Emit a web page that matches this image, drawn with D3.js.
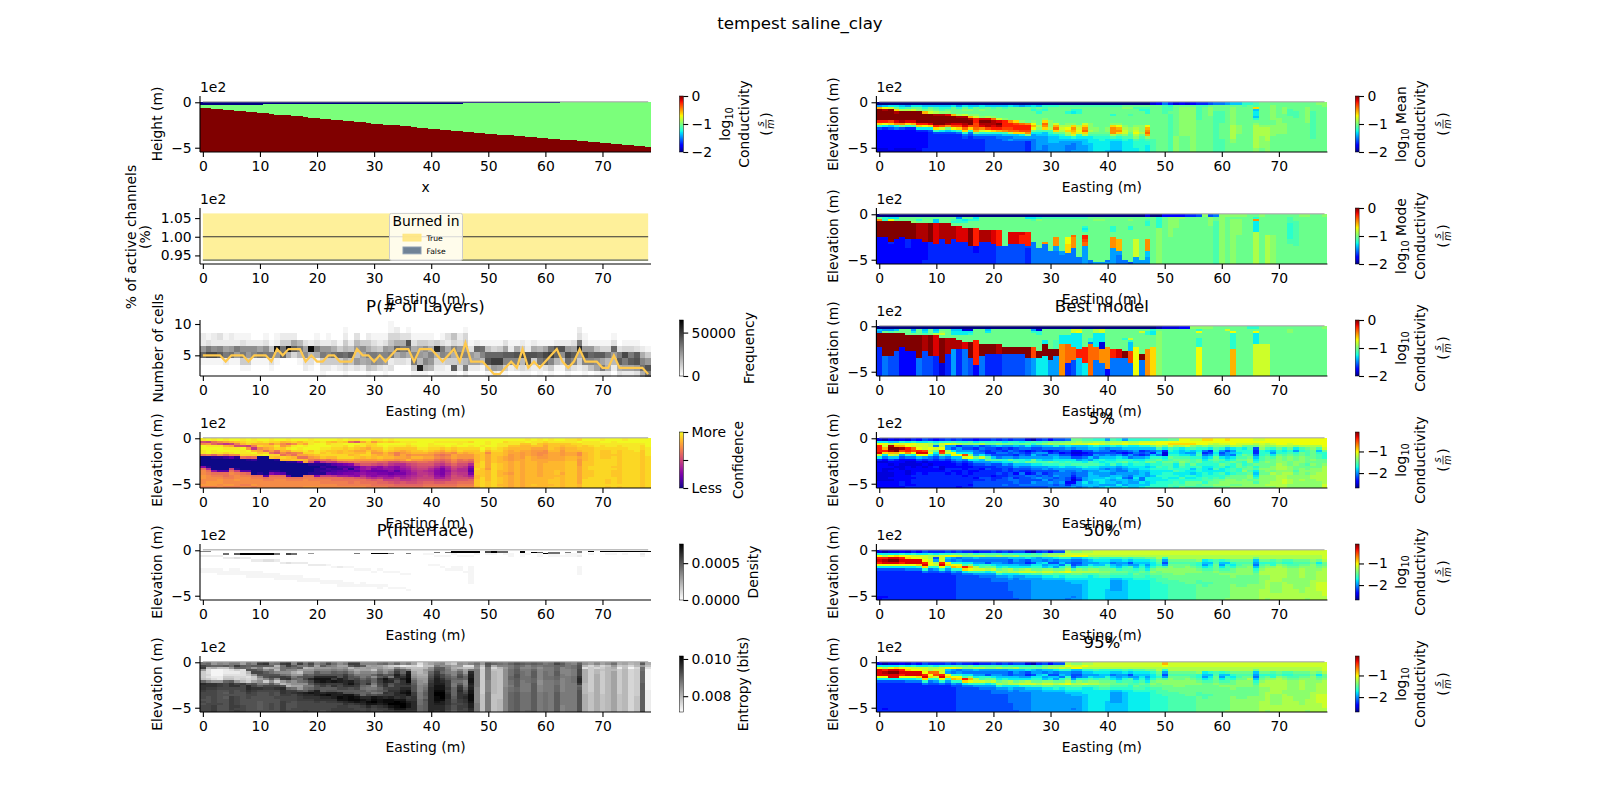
<!DOCTYPE html>
<html><head><meta charset="utf-8">
<script src="https://cdn.jsdelivr.net/npm/d3@7"></script>
<style>
html,body{margin:0;padding:0;background:#fff}
svg text{font-family:"DejaVu Sans",sans-serif;fill:#000}
.axis text{font-family:"DejaVu Sans",sans-serif;font-size:13.9px}
.axis path,.axis line{stroke:#000;stroke-width:1.1px}
</style></head><body><div id="chart"></div>
<script>
const xTickValues=[0,10,20,30,40,50,60,70];
const depthEdges=[0,.25,.5,.75,1,1.25,1.5,1.75,2,2.25,2.5,2.75,3,3.25,3.5,3.75,4,4.25,4.5,4.75,5,5.25,5.5];
const truthValues=[-2,-1,0];
const truthTop=[.33,.33,.33,.33,.33,.33,.33,.33,.33,.33,.33,.22,.22,.22,.22,.22,.22,.22,.22,.22,.22,.22,.22,.22,.22,.22,.22,.22,.14,.14,.14,.14,.14,.14,.14,.14,.14,.14,.14,.14,.14,.14,.14,.14,.14,.14,.07,.07,.07,.07,.07,.07,.07,.07,.07,.07,.07,.07,.07,.07,.07,.07,.07,0,0,0,0,0,0,0,0,0,0,0,0,0,0,0,0];
const truthInterface=[.6,.65,.7,.75,.8,.85,.95,1,1.05,1.1,1.15,1.2,1.25,1.35,1.4,1.45,1.5,1.55,1.6,1.7,1.75,1.8,1.85,1.9,2,2.05,2.1,2.15,2.2,2.25,2.35,2.4,2.45,2.5,2.55,2.6,2.65,2.7,2.8,2.85,2.9,2.95,3,3.05,3.15,3.2,3.25,3.3,3.35,3.4,3.45,3.5,3.55,3.6,3.65,3.7,3.75,3.8,3.85,3.9,3.95,4,4.05,4.1,4.15,4.2,4.25,4.3,4.35,4.4,4.45,4.5,4.55,4.6,4.65,4.75,4.8,4.85,4.95];
const burnBand=[.9375,1.0625];
const burnLine=1;
const layerLevels=[10,9,8,7,6,5,4,3,2];
const bestLayers=[5,5,5,5,4,5,5,5,4,5,5,5,4,6,5,6,6,6,4,5,4,4,5,5,4,4,4,6,5,5,4,5,4,5,6,6,6,4,6,6,6,5,4,5,6,4,7,4,4,4,3,2,2,3,4,3,6,3,4,3,4,5,6,4,3,4,6,4,4,4,3,3,5,3,3,3,3,3,2];
const layerCols=["aacckpbaa","aabdnsbaa","aacclsbaa","aadcmqbaa","aabcjncaa","aacckobaa","aabcnkbaa","aabdlnfba","aabclkfba","aaaclmbaa","aaacjobaa","aabdlnbaa","aaabgndba","aabcxkbaa","aacfopaaa","aacfxiaaa","aacjqeaaa","aaahnhbaa","aaadjldca","aaacyhdba","aabdnibaa","aaacknfcb","aabckmfca","aaadiofba","aaabfpfca","abcfhoidb","aaacgqgca","aadhkgkda","aaafljica","aacfinjgb","aabdgnlfa","aabcfmkda","aabdkmjcb","bbegjncda","aceipidaa","aadinkdaa","abdroicaa","aabdimnfb","aabfjkhwb","aabfljmib","aabeimkha","aaafviecb","aabdnmecb","aadcilfbb","aagemifqb","aacdkngda","abefkmhnc","aaabdkjca","aaacpijca","aaabomhba","aaabgprgb","aaabeptkc","aaabfptjb","aaadjqmfb","aaabcqmca","aaabirmda","aaacfsheb","aaabcrrdb","aaacirfca","aaabhqncb","aaabjspda","aaabotmfb","aaacrphba","aaacrlfba","aaacksofb","aaadjqmda","acdnvjfca","aabcksmdb","aaabkpmga","aaabgqljb","aaabeqjnc","aaabenhic","aabdpkhca","aaaadnqid","aaabesnjc","aaabenqjc","aaabdqrkd","aaaacimoi","aaaabfkrn"];
const meanCols=["ahszzzzzwrkfddddddddcc","aiqyzzzzwqjeddddddddcc","ajpzzzzzvrifdddddddddc","ajmryzzzxtkgddddddddcc","aikozzzzytmfddddddddcc","ahlozzzzxrkeddddddddcc","ajmpzzzzxsleddddddddcc","ajmnzzzzzwrjeddddddddc","aikmszzzzwqjedddddddee","aimnpzzzzxrjfeeeeeeeee","ailmoyzzzzwrkfeeeeeeee","aiklnyzzzzvpjfeeeeeeee","aikmnxzzzytmifeeeeeeee","ajmmmszzzxvqjfeeeeeeee","ahkmmoyzzxvrkgeeeeeeee","ajmnmpyzzyxurkgfeeeeee","aiknmnsyzzvrkgfeeeeeee","aimmmnpwwvvusmhfeeeeee","ajlnmmnxzyxtpkhfeeeeee","aimmmmoxzyyvqkhfffffff","ailmmmnuyyxwrkhfffffff","aimmmmmpxzywskhgffffff","ailmmmmnwwwvtliggfffff","ajmmmmmmtwwvuoighfffff","aimmmmmmrvwwurihgfffff","ahmmmmmmnuwwvrjhgfffff","aimmmmmmmtwwvtnhgeeeee","ajlkmmmmnqsqmjhhgggggg","aimlkmmmmmonljihhhhhhg","aklkmmmnrutrliihhhhggg","akmmmmmmnnnolkjiiihhhh","akmmmmmmmpsurmjiiihhhh","almmmmmmmmopomkjihhhhh","almmkmmmmnoqronjihhggg","almkjmmmmnrtsrpkihgggh","almkkmmmmmopqpkjihhhhh","almmmmmmmprturojiiihhh","almmmmmmmnnnomljjjiiii","almmmmmmmmmnnmlkjjjjjj","almmmmmmmmmmmmlkkjjjjj","almmmmmmmmmnnmlkjjjjji","almmmkmmmnrtttoljiiiih","almmmmmmmnqstrmkjiiiih","amnmmmmmmmnoppnlkjjjjj","amnmmlmmmmmnnmlljjjjjj","amlmmmmmmmnopqonlkkkjj","amlkmmmmmmnnnomlkkkkkk","amlkkmmmmmqstusnlkkjjj","cmmmmmmmmmmmmmmmllllll","dmmmmmmmmmmmmmmmmmmmmm","gllllmmmmmmmmmmmmmmmmm","ekllmlllllllllllllllll","cmmmmmmmmmmmmmmnnnnnnn","dmnnnnnnnnnnnnnmmmmmmm","cmnnnnnnnnnnnnnmmmmmmm","dmnnnnnnnnnnnnnnnnnnnn","elllllllmmmmmmmmmmmmmm","elmmmmmmmmmmmmmmmmmmmm","fmnnnnmmmmmmmmmmmmmmmm","gmmmllllllllllllllllll","gmmmlllllmmmmmmmllllll","hmmmmmmmmmmmmmmmmmmmmm","imnnnnnnnnoooooonnmmmm","immmmmmmmmnnnnmmmmmmmm","klmmmmmmmmmmmmmmmmmmmm","kmmmmmmmmmmmmmmmmmmmmm","llrijjikmnoooooooooonn","mmmmmmmmmmnoooonnnnnmm","mmmmmmmmmmnoooooonnnnn","mnnnnnnnmmnnnnnmmmmmmm","mmmmmmmnnnnnnnmmmmmmmm","mmnnnmmmmnnnnnmmmmmmmm","mmmlllmmmmmmmmmmmmmmmm","mmmmlllmmmmmmmmmmmmmmm","mmmmmmmmmmmmmmmmmmmmmm","mmnnnnnnnmmmmmmmmmmmmm","mmmmllllllllllllmmmmmm","nmmmmmmmmmmmmmmmmmmmmm","nnmmmmmmmmmmmmmmmmmmmm"];
const modeCols=["amtzzzzzzzdddddddddddd","akkzzzzzzzdddddddddddd","ajqzzzzzzzzzeddddddddd","ajmzzzzzzzzddddddddddd","ammzzzzzzzdddddddddddd","ammzzzzzzzzeeeeddddddd","ammnzzzzzzzddddddddddd","amkmyyyyyyyddddddddddd","ammmyyyyyyyyddddddddee","ammmzzzzzzzzeeeeeeeeee","amiixxxxxxxxxeeeeeeeee","ammmyyyyyyyeeeeeeeeeee","ammmyyyyyyyyyeeeeeeeee","amlkmyyyyyyeeeeeeeeeee","ahkkmxxxxxxxeeeeeeeeee","amjkmmxxxxxxeeeeeeeeee","amkmmmzzzzzzzzeeeeeeee","ajkmmmwwwwwwwwdddeeeee","ammmmmmyyyyyeeeeeeeeee","ammmmmmyyyyyeeeeeeeeee","ammmmmmxxxxxxeeeeeeeee","ammmmmmwwwwwwwffffffff","ammmmmmmmmmmmmffffffff","ammmmmmmxxxxxfffffffff","ammmmmmmxxxxxfffffffff","ammmmmmmxwwwwfffffffff","ajmmmmmmwwwwwwfeeeeeee","ajlmmmmmmmmmgggggggggg","aknmmmmmmmmmmmmggggggg","almmmmmmmmmmtggggggggg","almmmmmmmmmmmmmmgggggg","almmmmmmmmtttthhgggggg","almmmmmmmmmmmmmmhhgggg","almmmmmmmmqqqrrrrggggg","almmmmmmmutttttggggggg","almmmmmmmmmmmmmmmmmggg","almmmkjkmwwvuuhhhhhhhh","ammmmmmmmmmmmmmmmmmmgg","amnmmmmmmmmmmmmmmmmmmh","amnmmmmmmmmmmmmmmmmmmh","ammmmmmmmmmmmmmmmmmmgh","ammmmkkkmmttttthhhhhhh","ammmmmmmmmmssssshhgggg","ammmmmmmmmmmmmmmmmmmgg","amnmmkkmmmmmmmmmmmmmmf","ammmmmmmmmmpppppppphhh","ammmmmmmmmmmmmmmmmmmhh","cmlkkmmmmmmtttttiiihhh","ammmmmmmmmmmmmmmmmmmmm","akkkkknnnnnnnnnnnnnnnn","dmmmmmmmmmmmmmmmmmmmmm","dnnnnnnnnnmmmmmmmmmmmm","dnnnnnmmmmmmmmmmmmmmmm","dnmmmmmmmmmmmmmmmmmmmm","emmmmmmmmmmmmmmmmmmmmm","emmmmmmmmmmmmmmmmmmmmm","fmmmmmmmmmmmmmmmmmmmmm","nmmmmmmmmmmmmmmmmmmmmm","fnnnnmmmmmmmmmmmmmmmmm","gmmlllllllllllllllllll","nnnnnnnnnnnnnnnnnnnnnn","nmmmmmmmmmmmmmmmmmmmmm","nmnnnnnnnnnnnnnnnnnnnn","nmnnnnnnnmmmmmmmmmmmmm","nmmmmmmmmmmmmmmmmmmmmm","mmmmmmmmmmmmmmmmmmmmmm","mktjjjjjoooooooooooooo","nmmmmmmmmmmmmmmmmmmmmm","mmmmmmmmmooooooooooooo","mmmmmmmmmnnnnnnnnnnnnn","mmmmmmmmmmmmmmmmmmmmmm","mmmmmmmmmmmmmmmmmmmmmm","mlllkkkkkkkllmmmmmmmmm","mmmlllllllllllmmmmmmmm","nmmmmmmmmmmmmmmmmmmmmm","nmmmmmmmmmmmmmmmmmmmmm","mmmmmmmmmmmmmmmmmmmmmm","mmmmmmmmmmmmmmmmmmmmmm","nmmmmmmmmmmmmmmmmmmmmm"];
const bestCols=["aihzzzzzzeeeeeeeeeeeee","ahmzzzzzzzzzzggggggggg","ahlzzzzzzzzzzfffffffff","aimzzzzzzzzfffffffffff","ammzzzzzzddddddddddddd","ammmzzzzzzzddddddddddd","ahjmzzzzzzzddddddddddd","ammmzzzzzzzzzzgggggggg","aijlyyyyyyyfffffffffff","ammmzzzzzzzzzfffffffff","aijoxxxxxxxxxeeeeeeeee","amnpmzzzzzzzzzzzcccccc","ammmmyyyyyyyeeeeeeeeee","aijjmyyyyyhhhhhhhhhhhh","aijjmmyyyyeeeeeeeeeeee","acjjmmmxxxgggggggggggg","acjkmmmzzzzzzzffffffff","ammmmmwwwwwwwwwwwddddd","ammmmmmmzzzzzggggggggg","aijmmmmmzzzzeeeeeeeeee","ammmmmmmzzzzeeeeeeeeee","ammmmmmmyyyyeeeeeeeeee","ammmmmmmmzzzffffffffff","ammmmmmmmzzzffffffffff","ammmmmmmmzzzffffffffff","ammmmmmmmzzzffffffffff","ammmmmmmmzzzzzgggggggg","ahkmmmmmmvvvvvhhhhhhhh","ackkmmmmmmmzzzjjjjjjjj","ammmmmjjzzzzzjjjjjjjjj","ammmmmmmmmzzzzzhhhhhhh","ammmmmllllzzzhhhhhhhhh","ammmjjjjtttttttttttttt","ammmjjjjuuuuuuuueeeeee","appjjjjjjuuuuuufffffff","apqjjjjjjjwwwwiiiiiiii","ammmmmmmmwwwwwwwjjjjjj","ammmmkkguuuuuuuuuuuuuu","aoojjjjjjuuuuuuggggggg","appjjjjcccttttttgggggg","ammmmmmmmttttttttttddd","ammmmmmmmmwwwwgggggggg","ammmmmmmmmxxxxgggggggg","ammmmkmmmmmzzzgggggggg","ammmmpkiiiivvvvvgggggg","ammmmmmmmqqqqqqqqqqqqq","ampmmmmmmmmmzzzggggggg","amkkmmmmmmtttttttttttt","akjjmmmmmrrrrrrrrrrrrr","bmnnnnnnnnnnnnnnnnnnnn","cmmmmmmmmmmmmmmmmmmmmm","cmmmmmmmmmmmmmmmmmmmmm","cmmmmmmmmmmmmmmmmmmmmm","dmmmmmmmmmmmmmmmmmmmmm","dmmmmmmmmmmmmmmmmmmmmm","nmmmmmmmmmmmmmmmmmmmmm","nkqmmkkkkqqqqqqqqqqqqq","nmmmmmmmmmmmmmmmmmmmmm","nmmmmmmmmmmmmmmmmmmmmm","mmmmmmmmmmmmmmmmmmmmmm","mmmmmmmmmmmmmmmmmmmmmm","mpmmmmmmmmmmmmmmmmmmmm","mmqkkkkkkkssssssssssss","mmmmmmmmmmmmmmmmmmmmmm","mmmmmmmmmmmmmmmmmmmmmm","kmmmmmmmmmmmmmmmmmmmmm","kmqjjjjjpppppppppppppp","mmmmmmmmpppppppppppppp","mmmmmmmmpppppppppppppp","mmmmmmmmmmmmmmmmmmmmmm","mmmmmmmmmmmmmmmmmmmmmm","mmmmmmmmmmmmmmmmmmmmmm","mnnmmmmmmmmmmmmmmmmmmm","mmmmmmmmmmmmmmmmmmmmmm","mmmmmmmmmmmmmmmmmmmmmm","mmmmmmmmmmmmmmmmmmmmmm","mmmmmmmmmmmmmmmmmmmmmm","mmmmmmmmmmmmmmmmmmmmmm","nmmmmmmmmmmmmmmmmmmmmm"];
const p5Cols=["cjqwwwxpjecddddccccddd","bjqpswrjgdcddccccccddd","dioyzyspifdcdcdccdcddd","ciqszzsoieddcddddddddd","dkpsyvqhfddcccdddddeed","cjqqwwtkgdccddccddddde","ekqpuvqjgdcccdddedeede","djppqwxqifdcdddeeeeeee","fjpppvxqhecdcdddeeeeee","ekooqoqkgfdcdddeeeeeee","djmgpmjhfeddeddeeeeeee","ekpoqwvmhfddccdeeeeeee","fkqhhopjgedddeedeeeeee","elphfjqqigeddedeeeeeee","fkoehhjqihfededdeeeeed","ekngfhjvpgedddeedeeeee","elngfhjnqjfededdeeeede","djnhegghmjhfeedeedefff","ekofgfgjpihfedeeefefff","ekmgfeehlmhgefeeefffff","fkmhffefilifeeeedeefff","ekniefgfgliffeefeeffff","fjmhfegfhkjhfffeefffgf","ekmhegffhmjgfeeffggfff","fkliffgegklihffdfeggff","fjmhgefghkkigfegffffgf","ckmjgdefhjmigfedgfffgf","blkhfegihmmjhgfeggfhgf","ekmhffhghjljhgfgfhfggf","flnigehfhilkhhfegghggf","dmoigdehhimkigfffgfhgg","fmnkgefhijlkihfghfggfg","fmoigfdfhjkljhhgggghgg","gnojhfefhjlkihgggffdeg","mnpigdcdfjklihgfedcdgh","mopihdcdfhkljhhggfehhg","lnpihfdegijlkiggghhjih","lnqjifeeihlljihiiiihii","koqkihfhgjkljihhiijiih","kopjhgfgikjkihihhijjhi","hnojggfhijkjigihhjiihj","lopkhefgijklihhgiihihi","kopjhfehjkljhgghijihji","hpqkifdfikmkihghhgiihj","kopjigehgkkjjiihgfhhii","kopjihgfhjlkjihhijihii","kpqkiefehjkkjjiiiggjij","kpqkifgfikmjijihhjjiik","lpqmigeiklmkjkjjijjjkk","lqqolhigkmkklkjjkjjkkk","lqqmjeccjkmlkkjkkkjkkk","mqrplkjkmlmllljkkjkkll","mqrnkjjklmljjkljkjkllk","qqrojiijlmnmlkkjjlkklm","qqrpkjhjlmmkkkjjkjkmml","pqrnlihikllmkijikjkmml","pqqmkjklkmmklkkjjkkmll","rqqnkgegijkkjjjkkllkml","rqpmjefhjlkkjijjkklmml","qqonlkjkmmlkkljkklmmnm","qqpnkhfgjlkmljjlkkmnnm","rqpmifhhijlljkkjlmnnnm","qqqojhigjkmkkllkmmnnmn","qqpokkjklmlmmkklmmmnmn","qqpmjkkmlmkklmnlmmnnnn","qqpmlkklmnnlmmlmnnmnnn","pqomfeegijkmkljijkmlnn","pqponkkkllmmmnmmnnnnnn","qqonljklmmnmmnnmnnnnon","qqpnkihjlmmmnnmonnnoon","qqqomkkmnnnooonnoooooo","qqqokjklmmnnoonoooppoo","qqpomklmnnmmnnnonnoonn","qqqnjhklmmnnmmlmnnnnnn","qqqolkmmnnnmmnnnnnonnn","qqqomlllmmmlmmnmnnnnnn","qqqonmmmmnmnmnnnoonnnn","qqqolikllmmmmnnoooonnn","qqqqpmkkkmmnoooooooopp"];
const p50Cols=["cjqwxwqjfeeeeeeeeeeedd","bjowyxqjfeeeeeeeeeeede","cjqxzxqjfeeeeeeeeeeeee","cjrxzxqjfeeeeeeeeeeeee","dkqwxwqjfeeeeeeeeeeeee","cjqrxxqjgeeeeeeeeeeeee","ekpqxxqjgeeeeeeeeeeeee","djpqxxrkgeeeeeeeeeeeee","fjppqwxrkgeeeeeeeeeeee","ekoopqqkgfeeeeeeeeeeee","ejofhopkhfeeeeeeeeeeee","ekpppwxqkgeeeeeeeeeeee","fkqihqrkhfeeeeeeeeeeee","elqhgkqskhfeeeeeeeeeee","flpghkqrkgffffffffffff","elnhgjlwrjgfffffffffff","emnhgjnsqkgfffffffffff","dkoighjopkhfffffffffff","elohghklpkhgffffffffff","elnhgfkmojhgffffffffff","flnhghjmpkhgggffffffff","elohghijmokhggffffffff","fknhggiknnjhggffffffff","elniffijoojihgggggffff","fkoihgijmojhgggggggggf","fkmigghjnpkhhggggggggg","ckmjfehjopkihggggggggg","blmihfjkmplihhhhhhhhhh","ekmhhijkmolihhhhhhhhhh","fmnigjhinpmjihhhhhhhhh","dnoihfijnpmjihhhhhhhhh","fnojgfihmolkihhhhhhhhh","fnpkhigkmpljihhhhhhhhh","oppkhgkmoqlkjihhhhhhhg","npqigffhlomkjiihhhhhgh","npqigfgknomkjiihhhhhhh","opqjhhhkmolkjiiiiiiiii","opokihjlnoljjjjjjjjjjj","ppoljhiknolkjjjjjjjjjj","ppokjiilmnmljjjjjjjjjj","ppokjiklmnmljjjjjiiiii","ppokigijmmlkihhhhhiiii","ppokihhikmlkihhhhhiiii","ppoljhiklmlkjiiiiiiiii","ppokifhlllkkjjjjjjjjjj","ppoljihiklmlkjjjjjjjjj","ppoljijklmllkjjjjjjjjj","ppomjihijllkkjjjjjjjjj","ppomkjjkmnmlkkkkkkkkkk","ppoomlkmnmmlllkkkkkkkk","ppokhfhlnnmmlllkkkkkkk","ppoomlmnnnmmmlllllllll","ppoomlmmnnnmmlllllllll","ppoomlmmnnnmmmllllllll","ppoomlmnnnmmmmmlllllll","ppoomllmnnmmmmmlllllll","ppoonkklmnmmmllmmmmmmm","ppoojihjlmmmmmllmmmmmm","ppookijklmmmmmlmmmmmmm","ppoollmmmnmmmmmmmmmmmm","ppookihjlmnmmmmmmmmmmm","ppoolikllmnmmmmmmmmmmn","ppoomkjkmmnnmmmnnnnnnn","ppoomllmnnnmmmmmnnnnnn","ppoomlmmnnnmmmmmnnnnnn","ppoomlmnnnnmmmmnnnnnnn","ppomihgiklmmmmmnnnnnnn","ppoomklmnoonnnnnnooooo","ppoomkmnooonnoooooooon","ppoolkknoooooonnnnnooo","ppoomlnooooooonnnnnooo","ppoolkmnoooonnoooooooo","ppoolklmnnnnnnnooooooo","ppoomllmnnnnnnnnnooooo","ppoomlmnoooonnnnnnnooo","ppoomlmnnnnnnnnnooooon","ppoonmnnnnnnnooooooooo","ppoomjlmnoooooppppoooo","ppppommnooooooppppppoo"];
const p95Changes=[[0,"cjqxxxqjfeeeeeeeeeeeee"],[2,"cjqxzxxjfeeeeeeeeeeeee"],[3,"cjrxzxxjfeeeeeeeeeeeee"],[9,"ekoouqrkgfeeeeeeeeeeee"],[10,"ejopuvpkhfeeeeeeeeeeee"],[50,"sqokhfhlnnmmlllkkkkkkk"],[65,"ppoomlmonnnmmmmnnnnnnn"],[36,"oqokihhkmpljjjiiiiiiii"],[33,"oqokhhkmoqlkjihhhhhhhh"]];
const p95Cols=p50Cols.map((c,i)=>{const m=p95Changes.find(d=>d[0]===i);return m?m[1]:c;});
const confCols=["ynszzyyqaaaahqssttsstr","zmtyzzzraaaabkqrsssttr","yqpyzyypbaaaaaiqrssttr","zsnyzzysbaaaaaeqrsttss","yulvyzxqcaaaaaeqqrsstr","zvmuyzyseaaaamqsrrsstr","zwrnyzzsbaaaabmrsstssr","yxvnzyyxqaaaaaeqrsssrs","zyxmtzyxpbaaaaeprsssrs","yyvrlvzxqcaaaaaaqrsstr","zxvxsuwyaaaaaaabqrssss","zyvwuqxzaaaaaaaaeqrsss","yxswvtqxwaaaaabhqrrsss","zxvyxqoxvbaaaabfqrssss","zvstwvsqxvaaaaaeqrssss","ywqvyuqswvbaaaaaeqrsss","zxsyzxrqvwbaaaaaaqrsss","zvwzyxsuqwfaaaaaaqrsss","zxuyzyxuqvuaaaaaqrssst","yyyzzwxvtrnbaaabqrrsst","zxzzzyywuqfbabbbhqrsst","zyzzyxwxwrkbcbcbmqrrss","zwxzywxxvqmcbdcfmqrrss","zvyyxwwxvslebcdelqqrss","yxyyxvvxxuofdcefjqqrrs","zwzxwwwxxupgdfegjpqrrs","yqzzxvwvxuqhebfgipqqrs","yozxwuvwwtrmfgehhoqrrs","zuyyvuvxvtqoiihiknqqrs","zxxwuwxxwtqojjghilpqrr","ytxxwutvvtqnigfhhkoqqr","ywzywvtuwupmhhfgilppqr","zxzzyxvvvtpnjifgijmpqr","ywzyxwtuvtnliihfhjmoqq","zxzywvrrusnkhhegilmnpq","zyzywutuutokjihgijlopq","zyyxwvustvpmkjiijklnpq","zyzywwvtvtpnmlkjklmnpq","zzzzywvtvtqonmlllmnopq","zzzzyxvtusqonmklmmnpqr","zzyyxwutuspomkjklmnpqr","zyzyxvtrsqomkihhijmoqr","zyzywusqrpnliggghjmoqr","zyzzxwtrsqpnkjijklmpqr","zyzywvsuusrpnmlmnnopqr","zyyzxxvttqpnmkklmnoqrs","zyzzxwuttrpnlkkllnoqrs","zxzyxwvttqokhfegjmpqrs","zzzzxwwvvvvwwxwwvvwwwv","zzzyzywwwwxxxwwwwxxxxx","zyyzxvsuuuuuutvvvvvwww","zzzzyxwwwwwxxxxxxxxxxx","zzyyxxwwvvvwwwvvvwwwvw","zxyywvvvuuvvvvvuvvvvvv","zyywvuutttuuuuutuuuuuu","zyywvvuuuuvvvvvvvvvvvv","zywvvutttuuuuuuuuuuuuu","yzwvvuuuvvvvvvvvvvvvvv","zyywutttuuvvvvvvvvvvwv","yywwutsstuuuuuuuuvvvvv","zxvuussttuuvvvvvvvvvvv","yywwwvuuuuvvvvvvvvwwvw","zywwvvuuuuvvvvwwvwwwww","zywvutttuuvvvvvuvvvvvv","yywwvvuuvvwwwwwwwwwwww","yyxwvvuuvvwwwwwwwwwwww","xzxxwvssutttuuuuuuuuvv","zyywwwvvvvwwwwwwwwxxxx","zyyxwwwwwwwwxxwwwxxxxx","zyyyxxxxxxxxxxxxxxxxxx","yzyxxwwwwxxxxxxxxxxxxx","zzyyxwwwwxxxxxxxxxwwxw","zyyyxxxwxxxxwxwwwxxxxx","zzyxxwwwwwwwwwwwwwwwxw","yzyyxxxxxxxxxxxxxxxxxx","zzyyyxxxxxxxxxxxxxxxxx","zzyyyyxxxxxxxxxxxxxxxx","zzyxxwwwwwwwwwwwwwwwww","zzzzyyyyxxxxxxxxxxxxxx"];
const entropyCols=["ostkfffgpvuutsssrsrsss","pqhddedfmuutsssrrrssss","kpibbbcdkuutsssssssttt","mpgbbbcckttsrrrrrrsrrr","lqgccdfgpsssrqrqrrrrrr","nokdcdfgquusssrtttttts","ntpfcdeeksusrrrsssstst","jqpdddefhtsssrrrrrrsss","oporhfdefqvvutssrrrrrr","mqkrskffjrsutssrrrrrrr","tqnpsrmjlnqusrrrrqqqqr","uqhlqrrmfnstsrrrrrrrrr","npinorsqlqstsssrrrsssr","ohjhmrslfmsusrrsrrrrrr","tooolottkhrvuutssttttt","utpmlnsunjhptttsssrrrs","mqomiknplljotusssrrrss","tnqjgkqooljkrvuttsssss","onhkmqrsplnoqwvutsssst","sqikmprvsqnptxvutsssss","mjkmqrvxwtrrwwwuutssss","oqkmorvxxutqqvxvussssr","snkmorvxwtrqrwyvutssss","omlnqrvtxtuqrwwwutsstt","ljkmprrwwtssqvwyxusttt","njlnqtuuvvusqrxxxvuttt","tqhknqrrwxurqrxyywtstt","tskiknqstutsqquxyxusst","mqjjmnnprrpoqppvxwvtss","mjkjmnprsuonoqsvwyxvtt","mkjglplppnlnpnrxyzxtss","ojkmosqutsrpqoswxxwuts","phiklqsxwuusrutvyyxvtt","mfhlornuvrqtuttwyyzxvt","pemrtwvtrtttuvvuxzzyxu","lcjppsuwuutvwxvvxyzzxu","ndhnwxxyyvtvxyxtuwxxvu","jeghjklnpqrrrttuuvvvvu","dcghhijkllmmmnnnoooppp","hghkjijkkmnopqqprqqqqq","jglmpqrstuuvvvvvvvvvvv","lnqrtuvwwwxxyzzyyxwvvu","mlqqpssuvwxxyzzzywwvvv","hlmnnpqrtttutuvvuuutts","fjijmmoponnppppqrrsrrq","lkhmprsqoqtuvuuuttstts","kdgjknppmmnprsuvuuttss","mdgnvwwxxwvwxxyyyxwwvu","omlnnnnnnnnmmmmmmmnnnn","kgefffffffffffgggggggg","rqnnnnnnmmmmmnnnnnnnnn","pieghhhhhhhhhhgggggggg","omhggggggggggggghhhhhh","nmkllllllllmmmmmmmmmmm","pnnoooppoonooppppppppp","rppqqrrqqqqppqqqqqqqqq","qomnoooonnnnnooooooooo","pmmnnnooonnnnoooooooop","qonpqqqppqqqqqqqqqqqqq","pnlmmmmmllmmmnnnnnnnnn","nonnoooonnnnnooooooooo","oonnnnoonnnnnnnnnnnnnn","spppqqppoopppqqqqqqqqq","qpmmmnnmmmmmmnnnnnnmmm","nnnmmmnnnnnnnnnnnnnnnn","moonnnooonnnnnnnnnnnnn","qrrsssuvvtpqrrrrrrrrrr","lhdiiiiiihhhhhiiiiiiii","jefffffffffffggggggggg","mhehhiiiiiiiiiiiiiiiii","jefgffffffffffgggggggg","lghhhhhhhhhhhhhhhhhhhh","okihjjjjjjjjjjjjjjjjjj","ifcfffffffffffgggggggg","jgghhhhhhhhhhhhhhhhhhh","hebeeeeeeeeeeeeeeeeeee","iheffffffffffffggggggg","qkoopppppqqqqqqqqqqqqq","igdbbbbbbbbbcccccccccc"];
const densityCols=["aacaaaaabbaaaaaaaaaaaa","aacaaaaabbaaaaaaaaaaaa","aacaaaaabbaaaaaaaaaaaa","aacaaaaabbbaaaaaaaaaaa","aaacaaaaabbaaaaaaaaaaa","aaacaaaabbbaaaaaaaaaaa","aaadaaaabbbaaaaaaaaaaa","aaacaaaaabbaaaaaaaaaaa","aaacaaaaabbbaaaaaaaaaa","aaaacaaaabbbaaaaaaaaaa","aaaacaaaabbbaaaaaaaaaa","aaaadaaaaabbaaaaaaaaaa","aaaadaaaaabbaaaaaaaaaa","aaaacaaaaabbbaaaaaaaaa","aaaaacaaaaabbaaaaaaaaa","aaaaadaaaaabbaaaaaaaaa","aaaaacaaaaabbaaaaaaaaa","aaaaacaaaaabbbaaaaaaaa","aaaaacaaaaaabbaaaaaaaa","aaaaaacaaaaabbaaaaaaaa","aaaaaacaaaaabbaaaaaaaa","aaaaaacaaaaaabbaaaaaaa","aaaaaabaaaaaabbaaaaaaa","aaaaaaabaaaaabbaaaaaaa","aaaaaaacaaaaabbbaaaaaa","aaaaaaabaaaaaabbaaaaaa","aaaaaaabaaaaaabbaaaaaa","aaaaaaaabaaaaaabaaaaaa","aaaaaaaabaaaaabbaaaaaa","aaaaaaaabaaaaaabaaaaaa","aaaaaaaaabaaaaabaaaaaa","aaaaaaaabaaaaaabbaaaaa","aaaaaaaaabaaaaabaaaaaa","aaaaaaaaabaaaaaabaaaaa","aaaaaaaaabaaaaaabaaaaa","aaaaaaaaaabaaaaabaaaaa","aaaaaaaaaabaaaaaabaaaa","aaaaaaaaaaaaaaaaaaaaaa","aaaaaaaaaaaaaaaaaaaaaa","abaaaaaaaaaaaaaaaaaaaa","abaaaabaaaaaaaaaaaaaaa","aabaaabaaaaaaaaaaaaaaa","aabaaaabaaaaaaaaaaaaaa","aabaaaaabaaaaaaaaaaaaa","abaaaaabbaaaaaaaaaaaaa","aabaaaabbaaaaaaaaaaaaa","aabaaaaaabaaaaaaaaaaaa","aabaaaabbbbbbbbaaaaaaa","abaaaaaaaaaaaaaaaaaaaa","aaaaaaaaaaaaaaaaaaaaaa","abaaaaaaaaaaaaaaaaaaaa","abaaaaaaaaaaaaaaaaaaaa","aaaaaaaaaaaaaaaaaaaaaa","abaaaaaaaaaaaaaaaaaaaa","abbaaaaaaaaaaaaaaaaaaa","aaaaaaaaaaaaaaaaaaaaaa","abbaaaaaaaaaaaaaaaaaaa","abaaaaaaaaaaaaaaaaaaaa","aaaaaaaaaaaaaaaaaaaaaa","abbaaaaaaaaaaaaaaaaaaa","aaaaaaaaaaaaaaaaaaaaaa","abbaaaaaaaaaaaaaaaaaaa","abbaaaaaaaaaaaaaaaaaaa","aabaaaaaaaaaaaaaaaaaaa","abbaaaaaaaaaaaaaaaaaaa","abbaaaaaaaaaaaaaaaaaaa","abcaaaabbbbaaaaaaaaaaa","aaaaaaaaaaaaaaaaaaaaaa","abaaaaaaaaaaaaaaaaaaaa","aaaaaaaaaaaaaaaaaaaaaa","aaaaaaaaaaaaaaaaaaaaaa","abaaaaaaaaaaaaaaaaaaaa","abaaaaaaaaaaaaaaaaaaaa","aaaaaaaaaaaaaaaaaaaaaa","abaaaaaaaaaaaaaaaaaaaa","aaaaaaaaaaaaaaaaaaaaaa","aaaaaaaaaaaaaaaaaaaaaa","acbaaaaaaaaaaaaaaaaaaa","aaaaaaaaaaaaaaaaaaaaaa"];
const densityDashes=[[0,.1,12],[1,.1,12],[4,.33,14],[6,.33,16],[7,.33,25],[8,.33,25],[9,.33,25],[10,.33,25],[11,.33,25],[12,.33,25],[13,.33,14],[15,.33,18],[16,.33,14],[19,.3,10],[27,.28,13],[30,.25,25],[31,.25,25],[32,.25,25],[33,.25,12],[36,.25,13],[41,.15,14],[43,.15,14],[44,.12,25],[45,.12,25],[46,.12,25],[47,.12,25],[48,.12,25],[50,.12,18],[51,.12,25],[52,.12,15],[53,.12,15],[56,.12,25],[58,.15,25],[59,.15,16],[60,.25,25],[61,.22,14],[62,.22,14],[64,.18,13],[66,.12,12],[68,.08,25],[70,.04,25],[71,.04,25],[72,.04,25],[73,.04,25],[74,.04,25],[75,.04,25],[76,.04,25],[77,.04,25],[78,.04,25]];

const W=1600,H=800,AXW=451,AXH=56;
const colLeft=200,colRight=876.4;
const rowTops=[96,208,320,432,544,656];
const svg=d3.select("#chart").append("svg").attr("width",W).attr("height",H).style("display","block");
svg.append("text").attr("x",800).attr("y",29).attr("text-anchor","middle").style("font-size","16.67px").text("tempest saline_clay");
const x=d3.scaleLinear().domain([-.5,78.5]).range([0,AXW]);
const jetStops=[0,.11,.125,.34,.35,.375,.64,.65,.66,.89,.91,1];
const jetColors=["#000080","#0000ff","#0000ff","#00dbff","#00e5f7","#14ffe2","#eeff08","#fff700","#ffec00","#ff1300","#e80000","#800000"];
const jet=d3.scaleLinear().domain(jetStops).range(jetColors).clamp(true);
const grayR=d3.scaleLinear().domain([0,1]).range(["#ffffff","#000000"]);
const depthY=d3.scaleLinear().domain([-5.47,.69]).range([AXH,0]);
let gradId=0;

function panel(left,row){const g=svg.append("g").attr("transform",`translate(${left},${rowTops[row]})`);g.left=left;g.top=rowTops[row];return g;}
function axes(g,y,yTicks,yFmt,xlabel,ylabelLines,labelX,offset){
  const gx=g.append("g").attr("class","axis").attr("transform",`translate(0,${AXH})`)
    .call(d3.axisBottom(x).tickValues(xTickValues).tickSize(4.9).tickPadding(4.2).tickSizeOuter(0));
  gx.select(".domain").attr("d",`M0,0H${AXW}`);
  const gy=g.append("g").attr("class","axis")
    .call(d3.axisLeft(y).tickValues(yTicks).tickFormat(yFmt).tickSize(4.9).tickPadding(3.4).tickSizeOuter(0));
  gy.select(".domain").attr("d",`M0,0V${AXH}`);
  if(xlabel) g.append("text").attr("x",AXW/2).attr("y",AXH+39.5).attr("text-anchor","middle").style("font-size","13.9px").text(xlabel);
  ylabelLines.forEach((t,i)=>{
    g.append("text").attr("transform",`translate(${labelX[i]-g.left+5},${AXH/2}) rotate(-90)`).attr("text-anchor","middle").style("font-size","13.9px").text(t);
  });
  if(offset) g.append("text").attr("x",0).attr("y",-4).style("font-size","13.9px").text("1e2");
}
function cells(cols,rowEdges,toColor,yScale,g){
  const data=[];
  cols.forEach((s,i)=>{
    let r=0;
    while(r<rowEdges.length-1){
      const ch=s[r]||s[s.length-1];let e=r+1;
      while(e<rowEdges.length-1&&(s[e]||s[s.length-1])===ch)e++;
      data.push({i,y0:rowEdges[r],y1:rowEdges[e],level:ch.charCodeAt(0)-97});
      r=e;
    }
  });
  g.append("g").attr("shape-rendering","crispEdges").selectAll("rect").data(data).join("rect")
    .attr("x",d=>x(d.i-.5)).attr("width",d=>x(d.i+.5)-x(d.i-.5))
    .attr("y",d=>yScale(d.y0)).attr("height",d=>yScale(d.y1)-yScale(d.y0))
    .attr("fill",d=>toColor(d.level));
}
const depthScale=v=>depthY(-v);
function surface(g){
  g.append("line").attr("x1",x(0)).attr("x2",x(78)).attr("y1",depthY(0)-.5).attr("y2",depthY(0)-.5)
   .attr("stroke","#a8a8a8").attr("stroke-opacity",.75).attr("stroke-width",1.6);
}
function colorbar(g,side,color,domain,ticks,fmt){
  const cx=side==="l"?479.5:478.9;
  const id="g"+(gradId++);
  const defs=svg.append("defs");
  const lg=defs.append("linearGradient").attr("id",id).attr("x1",0).attr("x2",0).attr("y1",1).attr("y2",0);
  d3.range(0,1.0001,1/40).forEach(t=>lg.append("stop").attr("offset",t).attr("stop-color",color(domain[0]+t*(domain[1]-domain[0]))));
  const cb=g.append("g").attr("transform",`translate(${cx},0)`);
  cb.append("rect").attr("width",3.8).attr("height",AXH).attr("fill",`url(#${id})`).attr("stroke","#000").attr("stroke-width",.5);
  const s=d3.scaleLinear().domain(domain).range([AXH,0]);
  const a=cb.append("g").attr("class","axis").attr("transform","translate(3.8,0)")
    .call(d3.axisRight(s).tickValues(ticks).tickFormat(fmt).tickSize(4.9).tickPadding(3.4).tickSizeOuter(0));
  a.select(".domain").remove();
}
function rotLabel(g,absX,build){
  const t=g.append("text").attr("transform",`translate(${absX-g.left+5},${AXH/2}) rotate(-90)`).attr("text-anchor","middle").style("font-size","13.9px");
  build(t);
}
function logLabel(t,suffix){
  t.append("tspan").text("log");
  t.append("tspan").attr("dy",3).style("font-size","9.7px").text("10");
  t.append("tspan").attr("dy",-3).text(suffix?(" "+suffix):"");
}
function fracLabel(g,absX){
  const f=g.append("g").attr("transform",`translate(${absX-g.left},${AXH/2}) rotate(-90)`);
  f.append("text").attr("x",-9).attr("y",5).attr("text-anchor","middle").style("font-size","13.9px").text("(");
  f.append("text").attr("x",9).attr("y",5).attr("text-anchor","middle").style("font-size","13.9px").text(")");
  f.append("text").attr("x",0).attr("y",-2).attr("text-anchor","middle").style("font-size","9.7px").style("font-style","italic").text("s");
  f.append("text").attr("x",0).attr("y",8).attr("text-anchor","middle").style("font-size","9.7px").style("font-style","italic").text("m");
  f.append("line").attr("x1",-4.5).attr("x2",4.5).attr("y1",0).attr("y2",0).attr("stroke","#000").attr("stroke-width",.8);
}
const depthFmt=d=>d===0?"0":"\u22125";
const logFmt=d=>d===0?"0":"\u2212"+Math.abs(d);
const condColor=domain=>{const n=d3.scaleLinear().domain(domain).range([0,1]);return v=>jet(n(v));};
function condPanel(left,row,cols,domain,ticks,title,nameWord,xlab,ylab,ylabX){
  const g=panel(left,row);
  const c=condColor(domain);
  const lv=d3.scaleLinear().domain([0,25]).range(domain);
  cells(cols,depthEdges,d=>c(lv(d)),depthScale,g);
  surface(g);
  axes(g,depthY,[0,-5],depthFmt,xlab,[ylab],[ylabX],true);
  if(title) g.append("text").attr("x",AXW/2).attr("y",-8).attr("text-anchor","middle").style("font-size","16.67px").text(title);
  colorbar(g,"r",c,domain,ticks,logFmt);
  rotLabel(g,1401,t=>logLabel(t,nameWord));
  rotLabel(g,1420,t=>t.text("Conductivity"));
  fracLabel(g,1443);
  return g;
}

{
  const g=panel(colLeft,0);
  const c=condColor([-2,0]);
  const bands=[];
  truthInterface.forEach((d,i)=>{
    bands.push({i,y0:0,y1:truthTop[i],v:truthValues[0]});
    bands.push({i,y0:truthTop[i],y1:d,v:truthValues[1]});
    bands.push({i,y0:d,y1:5.5,v:truthValues[2]});
  });
  g.append("g").attr("shape-rendering","crispEdges").selectAll("rect").data(bands.filter(b=>b.y1>b.y0)).join("rect")
    .attr("x",b=>x(b.i-.5)).attr("width",b=>x(b.i+.5)-x(b.i-.5))
    .attr("y",b=>depthScale(b.y0)).attr("height",b=>depthScale(b.y1)-depthScale(b.y0)).attr("fill",b=>c(b.v));
  surface(g);
  axes(g,depthY,[0,-5],depthFmt,"x",["Height (m)"],[156.6],true);
  colorbar(g,"l",c,[-2,0],[0,-1,-2],logFmt);
  rotLabel(g,725,t=>logLabel(t,""));
  rotLabel(g,744,t=>t.text("Conductivity"));
  fracLabel(g,766);
}
{
  const g=panel(colLeft,1);
  const y=d3.scaleLinear().domain([.927,1.077]).range([AXH,0]);
  g.append("rect").attr("x",x(0)).attr("width",x(78)-x(0)).attr("y",y(burnBand[1])).attr("height",y(burnBand[0])-y(burnBand[1])).attr("fill","#fef09a");
  g.append("line").attr("x1",x(0)).attr("x2",x(78)).attr("y1",y(burnLine)).attr("y2",y(burnLine)).attr("stroke","#333").attr("stroke-width",1.1);
  g.append("line").attr("x1",x(0)).attr("x2",x(78)).attr("y1",y(burnBand[0])).attr("y2",y(burnBand[0])).attr("stroke","#8a8f77").attr("stroke-width",1.6);
  axes(g,y,[.95,1,1.05],d3.format(".2f"),"Easting (m)",[],[],true);
  g.append("text").attr("transform",`translate(${136-g.left},${AXH/2+1}) rotate(-90)`).attr("text-anchor","middle").style("font-size","13.9px").text("% of active channels");
  g.append("text").attr("transform",`translate(${150-g.left},${AXH/2+1}) rotate(-90)`).attr("text-anchor","middle").style("font-size","13.9px").text("(%)");
  const lg=g.append("g").attr("transform",`translate(189.5,${y(burnBand[1])})`);
  lg.append("rect").attr("width",73).attr("height",47).attr("rx",2).attr("fill","#fff").attr("fill-opacity",.8).attr("stroke","#ccc").attr("stroke-width",1);
  lg.append("text").attr("x",36.5).attr("y",13).attr("text-anchor","middle").style("font-size","13.9px").text("Burned in");
  lg.append("rect").attr("x",13.5).attr("y",20.8).attr("width",18).attr("height",6.8).attr("fill","#ffe680").attr("fill-opacity",.9).attr("stroke","#ffe680");
  lg.append("rect").attr("x",13.5).attr("y",33.6).attr("width",18).attr("height",6.8).attr("fill","#6f8296").attr("stroke","#8a9bb0");
  lg.append("text").attr("x",37).attr("y",27.5).style("font-size","7.6px").text("True");
  lg.append("text").attr("x",37).attr("y",40.2).style("font-size","7.6px").text("False");
}
{
  const g=panel(colLeft,2);
  const y=d3.scaleLinear().domain([1.7,10.64]).range([AXH,0]);
  const edges=layerLevels.map(v=>v+.5).concat([1.5]);
  const lv=d3.scaleLinear().domain([0,25]).range([0,64500]);
  const gc=v=>grayR(v/64500);
  cells(layerCols,edges,d=>gc(lv(d)),y,g);
  g.append("path").datum(bestLayers).attr("fill","none").attr("stroke","#ffc94d").attr("stroke-width",2.2)
    .attr("d",d3.line().x((d,i)=>x(i)).y(d=>y(d)));
  axes(g,y,[5,10],d=>d,"Easting (m)",["Number of cells"],[158],false);
  g.append("text").attr("x",AXW/2).attr("y",-8).attr("text-anchor","middle").style("font-size","16.67px").text("P(# of Layers)");
  colorbar(g,"l",gc,[0,64500],[0,50000],d=>d);
  rotLabel(g,749,t=>t.text("Frequency"));
}
{
  const g=panel(colLeft,3);
  cells(confCols,depthEdges,d=>d3.interpolatePlasma(d/25),depthScale,g);
  surface(g);
  axes(g,depthY,[0,-5],depthFmt,"Easting (m)",["Elevation (m)"],[156.6],true);
  colorbar(g,"l",d3.interpolatePlasma,[0,1],[0,.5,1],d=>d===1?"More":d===0?"Less":"");
  rotLabel(g,737.5,t=>t.text("Confidence"));
}
{
  const g=panel(colLeft,4);
  const lv=d3.scaleLinear().domain([0,25]).range([0,.00076]);
  const gc=v=>grayR(v/.00076);
  cells(densityCols,depthEdges,d=>gc(lv(d)),depthScale,g);
  g.append("g").attr("shape-rendering","crispEdges").selectAll("rect").data(densityDashes).join("rect")
    .attr("x",d=>x(d[0]-.5)).attr("width",d=>x(d[0]+.5)-x(d[0]-.5))
    .attr("y",d=>depthScale(d[1])).attr("height",1.3).attr("fill",d=>gc(lv(d[2])));
  surface(g);
  axes(g,depthY,[0,-5],depthFmt,"Easting (m)",["Elevation (m)"],[156.6],true);
  g.append("text").attr("x",AXW/2).attr("y",-8).attr("text-anchor","middle").style("font-size","16.67px").text("P(Interface)");
  colorbar(g,"l",gc,[0,.00076],[0,.0005],d3.format(".4f"));
  rotLabel(g,752.6,t=>t.text("Density"));
}
{
  const g=panel(colLeft,5);
  const dom=[.00715,.01016];
  const lv=d3.scaleLinear().domain([0,25]).range(dom);
  const gc=v=>grayR((v-dom[0])/(dom[1]-dom[0]));
  cells(entropyCols,depthEdges,d=>gc(lv(d)),depthScale,g);
  surface(g);
  axes(g,depthY,[0,-5],depthFmt,"Easting (m)",["Elevation (m)"],[156.6],true);
  colorbar(g,"l",gc,dom,[.008,.01],d3.format(".3f"));
  rotLabel(g,743,t=>t.text("Entropy (bits)"));
}
const cond=[-2,0],pct=[-2.69,-.1];
condPanel(colRight,0,meanCols,cond,[0,-1,-2],null,"Mean","Easting (m)","Elevation (m)",832.6);
condPanel(colRight,1,modeCols,cond,[0,-1,-2],null,"Mode","Easting (m)","Elevation (m)",832.6);
condPanel(colRight,2,bestCols,cond,[0,-1,-2],"Best model","","Easting (m)","Elevation (m)",832.6);
condPanel(colRight,3,p5Cols,pct,[-1,-2],"5%","","Easting (m)","Elevation (m)",832.6);
condPanel(colRight,4,p50Cols,pct,[-1,-2],"50%","","Easting (m)","Elevation (m)",832.6);
condPanel(colRight,5,p95Cols,pct,[-1,-2],"95%","","Easting (m)","Elevation (m)",832.6);
</script></body></html>
